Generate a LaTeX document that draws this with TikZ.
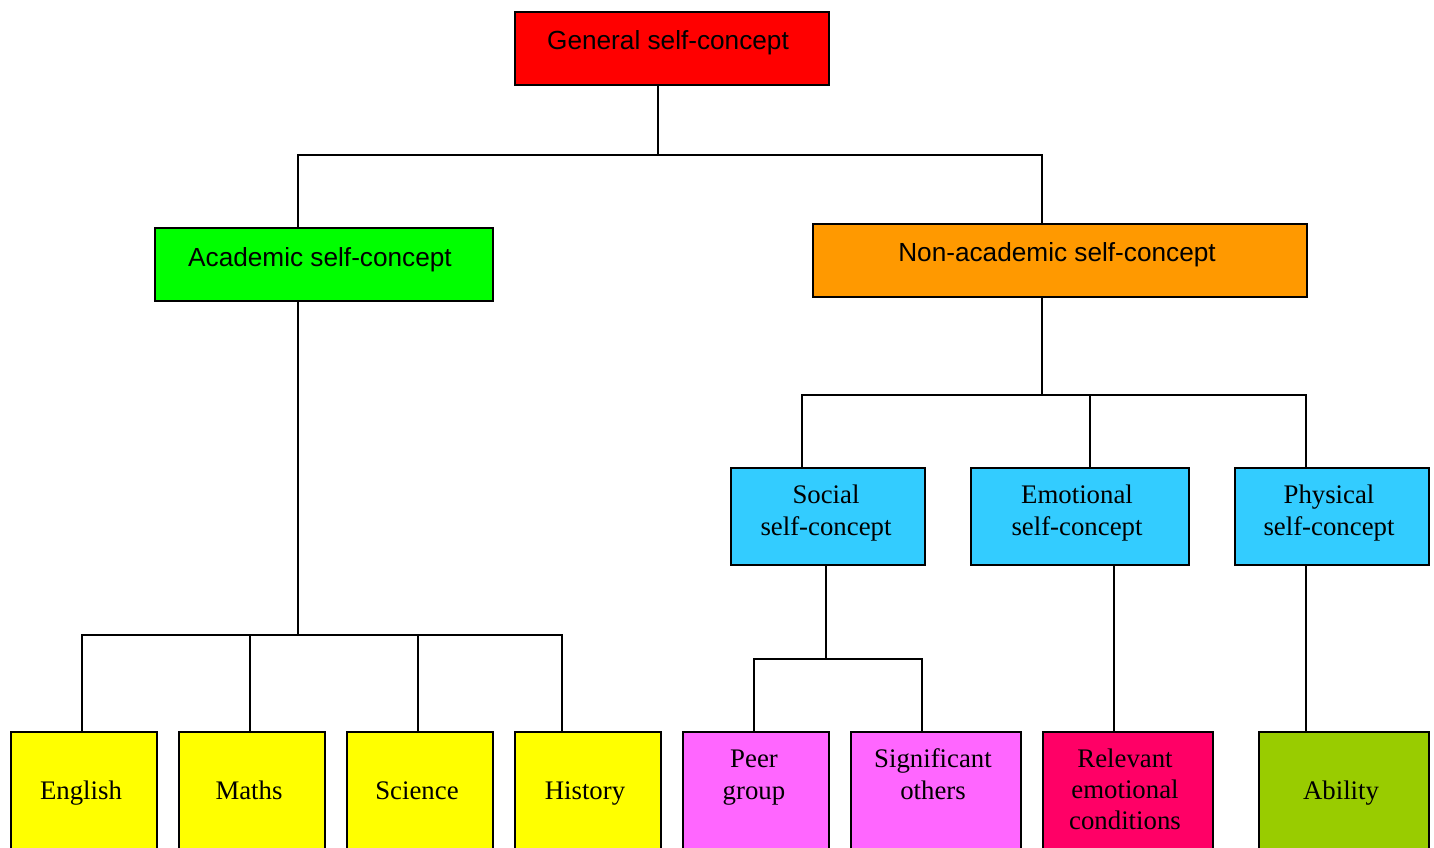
\documentclass[tikz,border=0pt]{standalone}
\usepackage{fontspec}
\setmainfont{Liberation Serif}
\newfontfamily\arialfont{Liberation Sans}
\definecolor{cRed}{HTML}{FF0000}
\definecolor{cGreen}{HTML}{00FF00}
\definecolor{cOrange}{HTML}{FF9900}
\definecolor{cCyan}{HTML}{33CCFF}
\definecolor{cYellow}{HTML}{FFFF00}
\definecolor{cMagenta}{HTML}{FF66FF}
\definecolor{cPink}{HTML}{FF0066}
\definecolor{cOlive}{HTML}{99CC00}
\tikzset{
  box/.style={draw=black, line width=2pt, anchor=north west, inner sep=0pt, minimum height=#1},
  box/.default=73pt,
  sanslbl/.style={font=\arialfont\fontsize{26.2}{30}\selectfont, inner sep=0pt, anchor=base},
  seriflbl/.style={font=\fontsize{26.8}{32}\selectfont, inner sep=0pt, align=center},
  conn/.style={line width=2pt, draw=black}
}
\begin{document}
\begin{tikzpicture}[x=1pt,y=-1pt]
\useasboundingbox (0,0) rectangle (1434,848);
\clip (0,0) rectangle (1434,848);
\fill[white] (0,0) rectangle (1434,848);

% boxes
\node[box, fill=cRed, minimum width=314pt] (gen) at (514,11) {};
\node[box, fill=cGreen, minimum width=338pt] (acad) at (154,227) {};
\node[box, fill=cOrange, minimum width=494pt] (nonac) at (812,223) {};
\node[box=97pt, fill=cCyan, minimum width=194pt] (soc) at (730,467) {};
\node[box=97pt, fill=cCyan, minimum width=218pt] (emo) at (970,467) {};
\node[box=97pt, fill=cCyan, minimum width=194pt] (phys) at (1234,467) {};
\node[box=140pt, fill=cYellow, minimum width=146pt] (eng) at (10,731) {};
\node[box=140pt, fill=cYellow, minimum width=146pt] (maths) at (178,731) {};
\node[box=140pt, fill=cYellow, minimum width=146pt] (sci) at (346,731) {};
\node[box=140pt, fill=cYellow, minimum width=146pt] (hist) at (514,731) {};
\node[box=140pt, fill=cMagenta, minimum width=146pt] (peer) at (682,731) {};
\node[box=140pt, fill=cMagenta, minimum width=170pt] (sig) at (850,731) {};
\node[box=140pt, fill=cPink, minimum width=170pt] (rel) at (1042,731) {};
\node[box=140pt, fill=cOlive, minimum width=170pt] (abil) at (1258,731) {};

% labels
\node[sanslbl] (genT) at (668,50) {General self-concept};
\node[sanslbl] (acadT) at (320,266) {Academic self-concept};
\node[sanslbl] (nonacT) at (1057,261.5) {Non-academic self-concept};
\node[seriflbl] (socT) at (826,513) {Social\\self-concept};
\node[seriflbl] (emoT) at (1077,513) {Emotional\\self-concept};
\node[seriflbl] (physT) at (1329,513) {Physical\\self-concept};
\node[seriflbl, anchor=base] (engT) at (81,799) {English};
\node[seriflbl, anchor=base] (mathsT) at (249,799) {Maths};
\node[seriflbl, anchor=base] (sciT) at (417,799) {Science};
\node[seriflbl, anchor=base] (histT) at (585,799) {History};
\node[seriflbl] (peerT) at (754,777.5) {Peer\\group};
\node[seriflbl] (sigT) at (933,774) {Significant\\others};
\node[seriflbl, font=\fontsize{26.8}{31}\selectfont] (relT) at (1125,789) {Relevant\\emotional\\conditions};
\node[seriflbl, anchor=base] (abilT) at (1341,799) {Ability};

% junction coordinates
\coordinate (jA) at (298,155);
\coordinate (j0) at (658,155);
\coordinate (jN) at (1042,155);
\coordinate (kA) at (298,635);
\coordinate (k1) at (82,635);
\coordinate (k2) at (250,635);
\coordinate (k3) at (418,635);
\coordinate (k4) at (562,635);
\coordinate (m0) at (1042,395);
\coordinate (m1) at (802,395);
\coordinate (m2) at (1090,395);
\coordinate (m3) at (1306,395);
\coordinate (n0) at (826,659);
\coordinate (n1) at (754,659);
\coordinate (n2) at (922,659);
\coordinate (p1) at (1114,600);
\coordinate (q1) at (1306,600);

% connectors
\draw[conn] (gen.south -| j0) -- (j0);
\draw[conn] (acad.north -| jA) -- (jA) -- (jN) -- (nonac.north -| jN);
\draw[conn] (acad.south -| kA) -- (kA);
\draw[conn] (eng.north -| k1) -- (k1) -- (k4) -- (hist.north -| k4);
\draw[conn] (k2) -- (maths.north -| k2);
\draw[conn] (k3) -- (sci.north -| k3);
\draw[conn] (nonac.south -| m0) -- (m0);
\draw[conn] (soc.north -| m1) -- (m1) -- (m3) -- (phys.north -| m3);
\draw[conn] (m2) -- (emo.north -| m2);
\draw[conn] (soc.south -| n0) -- (n0);
\draw[conn] (peer.north -| n1) -- (n1) -- (n2) -- (sig.north -| n2);
\draw[conn] (emo.south -| p1) -- (rel.north -| p1);
\draw[conn] (phys.south -| q1) -- (abil.north -| q1);
\end{tikzpicture}
\end{document}
